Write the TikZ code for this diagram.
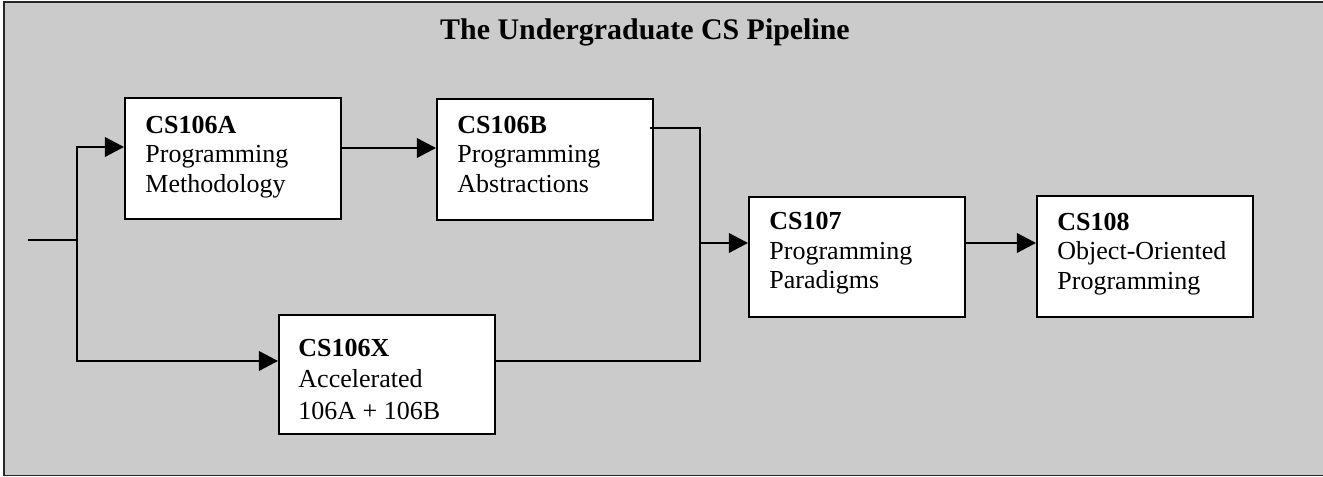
\documentclass[tikz,border=0pt]{standalone}
\usepackage{fontspec}
\setmainfont{Liberation Serif}
\usetikzlibrary{arrows.meta,calc}
\definecolor{bg}{RGB}{203,203,203}
\begin{document}
\begin{tikzpicture}[x=0.4615pt,y=-0.4615pt,
  box/.style={draw=black,fill=white,line width=0.9pt,inner sep=0pt,anchor=north west,
    minimum width=216*0.4615pt,minimum height=121*0.4615pt},
  lbl/.style={inner sep=0pt,anchor=north west,align=left,font=\fontsize{12}{13.6}\selectfont},
  conn/.style={draw=black,line width=0.9pt},
  arr/.style={conn,-{Triangle[length=8.8pt,width=9pt]}}]
\useasboundingbox (0,0) rectangle (1323,477);
\begin{scope}
\clip (0,0) rectangle (1323,477);
\draw[line width=0.9pt,draw=black!85,fill=bg] (4,2) rectangle (1330,475.5);
\end{scope}
\node[font=\fontsize{13.8}{16}\selectfont\bfseries,anchor=base,inner sep=0pt] (title) at (645,40) {The Undergraduate CS Pipeline};

\node[box] (A) at (124,97) {};
\node[box] (B) at (436,98) {};
\node[box,minimum height=119*0.4615pt] (X) at (278,314) {};
\node[box,minimum height=120*0.4615pt] (C) at (748,196) {};
\node[box] (D) at (1036,195) {};

\node[lbl] (At) at ($(A.north west)+(21,18.4)$) {\textbf{CS106A}\\Programming\\Methodology};
\node[lbl] (Bt) at ($(B.north west)+(21,17.4)$) {\textbf{CS106B}\\Programming\\Abstractions};
\node[lbl,font=\fontsize{12}{14.4}\selectfont] (Xt) at ($(X.north west)+(20,25)$) {\textbf{CS106X}\\Accelerated\\106A + 106B};
\node[lbl] (Ct) at ($(C.north west)+(21,16)$) {\textbf{CS107}\\Programming\\Paradigms};
\node[lbl] (Dt) at ($(D.north west)+(21,17.4)$) {\textbf{CS108}\\Object-Oriented\\Programming};

\coordinate (start) at (28,240);
\coordinate (split) at (77,240);
\coordinate (join) at (700,243);
\path (A.north west) ++(0,50) coordinate (Ain);
\path (A.north east) ++(0,51) coordinate (Aout);
\path (B.north east) ++(-4,30) coordinate (Bout);
\path (X.north west) ++(0,47) coordinate (Xin);
\path (X.north east) ++(0,47) coordinate (Xout);
\path (C.north east) ++(0,47) coordinate (Cout);

\draw[conn] (start) -- (split);
\draw[arr] (split) |- (Ain);
\draw[arr] (split) |- (Xin);
\draw[arr] (Aout) -- (Aout -| B.west);
\draw[conn] (Bout) -| (join) |- (Xout);
\draw[arr] (join) -- (join -| C.west);
\draw[arr] (Cout) -- (Cout -| D.west);
\end{tikzpicture}
\end{document}
